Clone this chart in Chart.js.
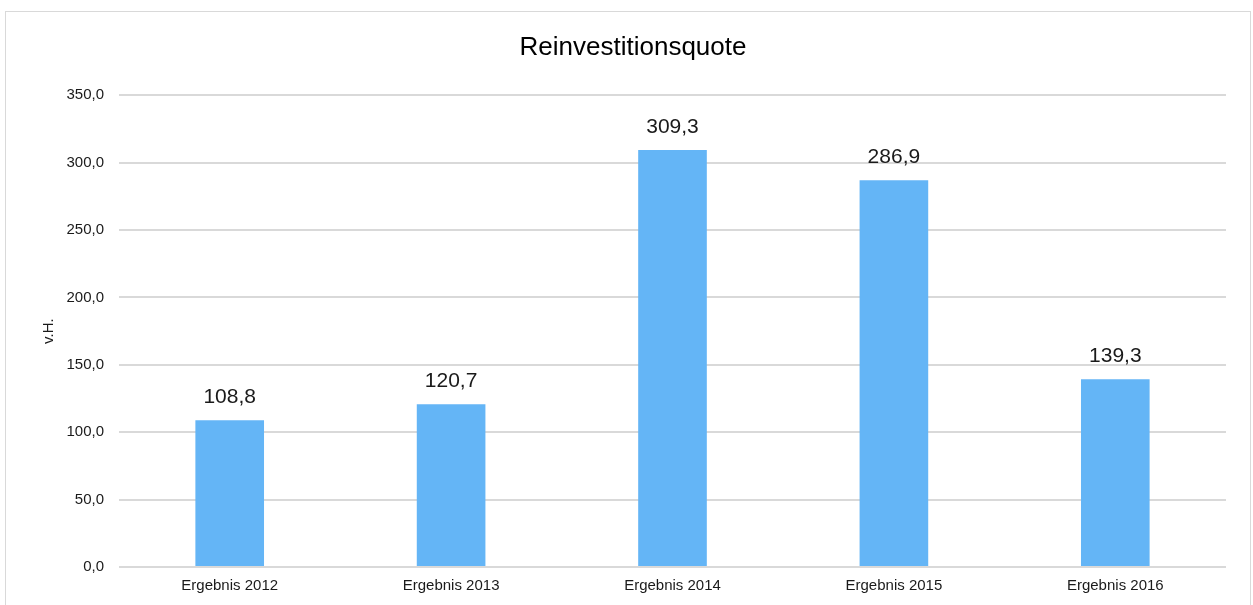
<!DOCTYPE html>
<html>
<head>
<meta charset="utf-8">
<script src="https://cdn.jsdelivr.net/npm/chart.js@4"></script>
<style>
    html, body { margin: 0; padding: 0; background: #fff; overflow: hidden; }
    #frame { position: absolute; left: 5px; top: 11px; width: 1244px; height: 620px; border: 1px solid #d9d9d9; }
    #wrap { position: absolute; left: 0; top: 0; width: 1253px; height: 605px; }
</style>
</head>
<body>
<div id="frame"></div>
<div id="wrap"><canvas id="chart"></canvas></div>
<script>
    const categories = ['Ergebnis 2012', 'Ergebnis 2013', 'Ergebnis 2014', 'Ergebnis 2015', 'Ergebnis 2016'];
    const quote = [108.8, 120.7, 309.3, 286.9, 139.3];
    const yTicks = [0, 50, 100, 150, 200, 250, 300, 350];

    const fmt = v => v.toFixed(1).replace('.', ',');
    const font = '"Liberation Sans", Arial, sans-serif';

    // value labels above the bars
    const barLabels = {
        id: 'barLabels',
        afterDatasetsDraw(chart) {
            const ctx = chart.ctx;
            const meta = chart.getDatasetMeta(0);
            ctx.save();
            ctx.font = '21px ' + font;
            ctx.fillStyle = '#1a1a1a';
            ctx.textAlign = 'center';
            ctx.textBaseline = 'alphabetic';
            meta.data.forEach((bar, i) => {
                ctx.fillText(fmt(quote[i]), bar.x, bar.y - 17);
            });
            ctx.restore();
        }
    };

    const ctx = document.getElementById('chart').getContext('2d');
    new Chart(ctx, {
        type: 'bar',
        data: {
            labels: categories,
            datasets: [{
                label: 'Reinvestitionsquote',
                data: quote,
                backgroundColor: '#64b5f6',
                barPercentage: 0.31,
                categoryPercentage: 1
            }]
        },
        options: {
            responsive: true,
            maintainAspectRatio: false,
            animation: false,
            layout: { padding: { left: 40, right: 27, top: 0, bottom: 0 } },
            plugins: {
                legend: { display: false },
                tooltip: { enabled: false },
                title: {
                    display: true,
                    text: 'Reinvestitionsquote',
                    color: '#000',
                    font: { family: font, size: 26, weight: 'normal' },
                    padding: { top: 32, bottom: 32 }
                }
            },
            scales: {
                x: {
                    grid: { display: false, drawTicks: false },
                    border: { display: false },
                    ticks: {
                        color: '#1a1a1a',
                        padding: 10,
                        font: { family: font, size: 15 }
                    },
                    afterFit(s) { s.height = 38; }
                },
                y: {
                    min: 0,
                    max: 350,
                    afterBuildTicks(s) { s.ticks = yTicks.map(v => ({ value: v })); },
                    grid: { color: '#d9d9d9', lineWidth: 2, drawTicks: false },
                    border: { display: false },
                    ticks: {
                        color: '#1a1a1a',
                        padding: 15,
                        font: { family: font, size: 15 },
                        callback: v => fmt(v)
                    },
                    title: {
                        display: true,
                        text: 'v.H.',
                        color: '#1a1a1a',
                        padding: 0,
                        font: { family: font, size: 15 }
                    },
                    afterFit(s) { s.width = 79; }
                }
            }
        },
        plugins: [barLabels]
    });
</script>
</body>
</html>
